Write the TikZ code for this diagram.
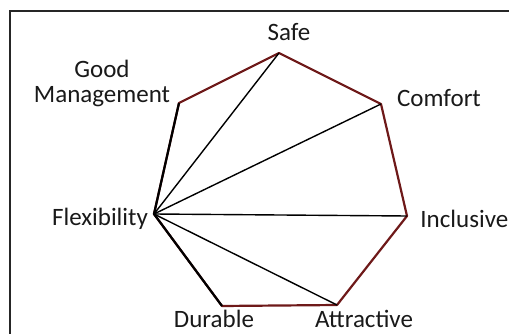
\documentclass[tikz,border=0pt]{standalone}
\usepackage{fontspec}
\setmainfont{Carlito}
\definecolor{edgered}{RGB}{110,25,25}
\begin{document}
\begin{tikzpicture}[x=1pt,y=-1pt,
  lbl/.style={font=\fontsize{25}{27}\selectfont, inner sep=0pt, text=black!90},
  rim/.style={draw=edgered, line width=2.2pt, line join=round},
  spoke/.style={draw=black, line width=1.4pt},
  side/.style={draw=black, line width=2.2pt}]
\useasboundingbox (0,0) rectangle (509,334);
\begin{scope}
\clip (0,0) rectangle (509,334);
\draw[line width=1.5pt, draw=black!85] (10,11) rectangle (520,345);
\end{scope}
\coordinate (S) at (279,53);
\coordinate (C) at (381,104);
\coordinate (I) at (407,216);
\coordinate (A) at (337,305);
\coordinate (D) at (222,306);
\coordinate (F) at (154,214);
\coordinate (G) at (179,103);
\draw[rim] (S) -- (C) -- (I) -- (A) -- (D) -- (F) -- (G) -- cycle;
\draw[side] (D) -- (F) -- (G);
\draw[spoke] (F) -- (S);
\draw[spoke] (F) -- (C);
\draw[spoke] (F) -- (I);
\draw[spoke] (F) -- (A);
\node[lbl] (ls) at (289,32) {Safe};
\node[lbl, align=center] (lg) at (102,83) {Good\\[-2pt]Management};
\node[lbl] (lc) at (439,98) {Comfort};
\node[lbl] (lf) at (100,219) {Flexibility};
\node[lbl, anchor=east] (li) at (508.5,219) {Inclusive};
\node[lbl, anchor=base] (ld) at (214,327) {Durable};
\node[lbl, anchor=base] (la) at (364,327) {Attractive};
\end{tikzpicture}
\end{document}
